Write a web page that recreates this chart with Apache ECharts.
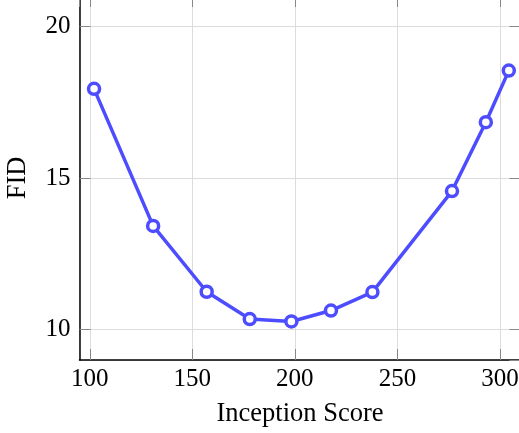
<!DOCTYPE html>
<html>
<head>
<meta charset="utf-8">
<script src="https://cdn.jsdelivr.net/npm/echarts@6/dist/echarts.min.js"></script>
<style>
  html, body { margin: 0; padding: 0; background: #fff; }
  #chart { width: 519px; height: 433px; }
</style>
</head>
<body>
<div id="chart"></div>
<script>
const inceptionScore = [102.1, 130.9, 157.0, 178.0, 198.3, 217.6, 237.8, 276.6, 293.1, 304.3];
const fid = [17.94, 13.42, 11.25, 10.35, 10.27, 10.63, 11.24, 14.57, 16.84, 18.54];

const xRange = [95, 310];
const yRange = [9, 21];

const font = "Liberation Serif";
const lineColor = "#4d4dff";

const chart = echarts.init(document.getElementById("chart"));

const tickStyle = { show: true, inside: true, length: 11, lineStyle: { color: "#888", width: 1 } };
const gridLine = { show: true, lineStyle: { color: "#dcdcdc", width: 1 } };

chart.setOption({
  animation: false,
  grid: { left: 79.5, right: -1.5, top: -4, bottom: 73, containLabel: false, outerBoundsMode: "none" },
  xAxis: [
    {
      type: "value",
      min: xRange[0],
      max: xRange[1],
      splitNumber: 4,
      minInterval: 50,
      maxInterval: 50,
      name: "Inception Score",
      nameLocation: "middle",
      nameGap: 41,
      nameTextStyle: { fontFamily: font, fontSize: 26.5, color: "#000" },
      axisLine: { show: true, onZero: false, lineStyle: { color: "#000", width: 1.5 } },
      axisTick: tickStyle,
      axisLabel: { fontFamily: font, fontSize: 25, color: "#000", margin: 7, showMinLabel: false, showMaxLabel: false },
      splitLine: gridLine
    },
    {
      type: "value",
      position: "top",
      min: xRange[0],
      max: xRange[1],
      splitNumber: 4,
      minInterval: 50,
      maxInterval: 50,
      axisLine: { show: false },
      axisTick: tickStyle,
      axisLabel: { show: false },
      splitLine: { show: false }
    }
  ],
  yAxis: [
    {
      type: "value",
      min: yRange[0],
      max: yRange[1],
      splitNumber: 2,
      minInterval: 5,
      maxInterval: 5,
      name: "FID",
      nameLocation: "middle",
      nameGap: 48,
      nameRotate: 90,
      nameTextStyle: { fontFamily: font, fontSize: 26.5, color: "#000" },
      axisLine: { show: true, onZero: false, lineStyle: { color: "#000", width: 1.5 } },
      axisTick: tickStyle,
      axisLabel: { fontFamily: font, fontSize: 25, color: "#000", margin: 9, showMinLabel: false, showMaxLabel: false },
      splitLine: gridLine
    },
    {
      type: "value",
      position: "right",
      min: yRange[0],
      max: yRange[1],
      splitNumber: 2,
      minInterval: 5,
      maxInterval: 5,
      axisLine: { show: false },
      axisTick: tickStyle,
      axisLabel: { show: false },
      splitLine: { show: false }
    }
  ],
  series: [
    {
      type: "line",
      data: inceptionScore.map((x, i) => [x, fid[i]]),
      symbol: "circle",
      symbolSize: 11,
      lineStyle: { color: lineColor, width: 3.5 },
      itemStyle: { color: "#fff", borderColor: lineColor, borderWidth: 3.5 },
      z: 5
    }
  ]
});
</script>
</body>
</html>
